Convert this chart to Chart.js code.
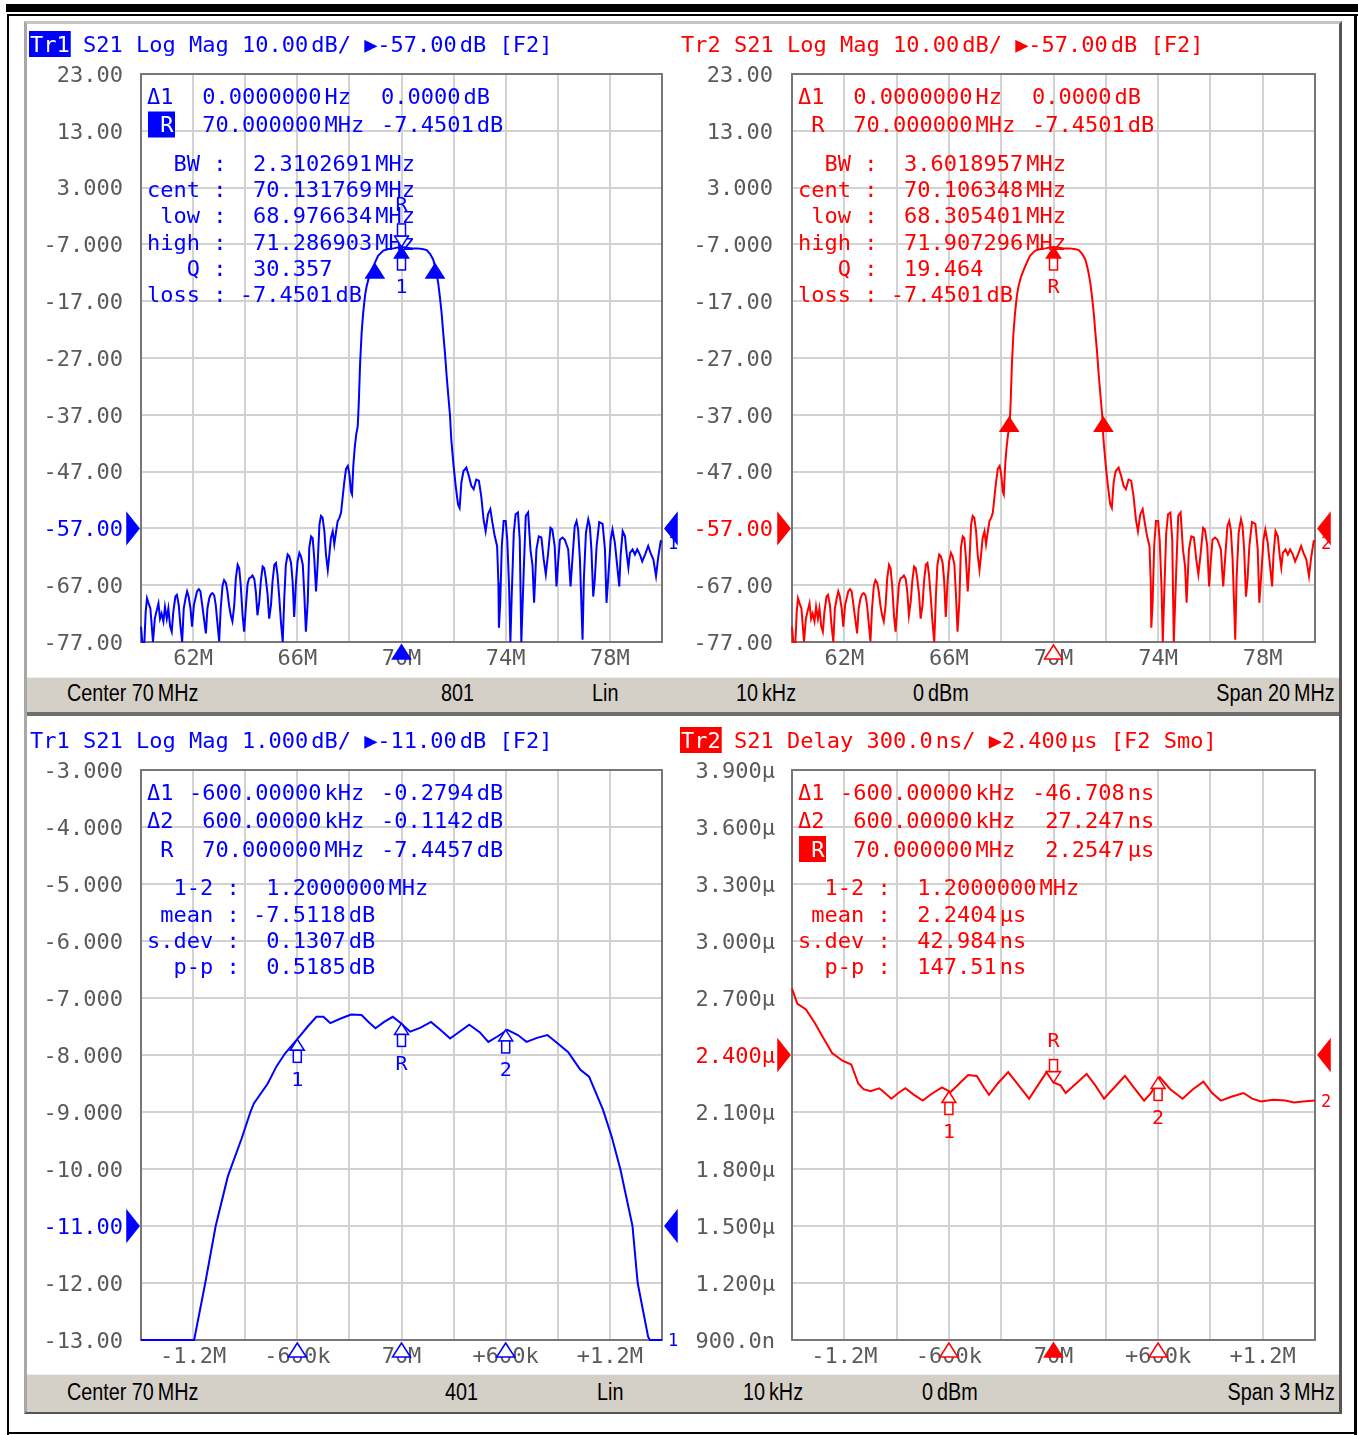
<!DOCTYPE html>
<html>
<head>
<meta charset="utf-8">
<script src="https://cdn.jsdelivr.net/npm/chart.js@4.4.1/dist/chart.umd.min.js"></script>
<style>
  body { margin: 0; background: #fff; width: 1358px; height: 1435px; position: relative; overflow: hidden; }
  .abs { position: absolute; }
  .st { position: absolute; font: 23px 'Liberation Sans', Arial, sans-serif; color: #000; white-space: nowrap;
        line-height: 24px; transform: scaleX(0.86); transform-origin: left center; }
  .st.r { transform-origin: right center; }
  canvas { position: absolute; }
</style>
</head>
<body>
<!-- outer frame -->
<div class="abs" style="left:6px;top:4px;width:1352px;height:8px;background:#000"></div>
<div class="abs" style="left:7px;top:14px;width:1351px;height:2px;background:#000"></div>
<div class="abs" style="left:7px;top:14px;width:2px;height:1421px;background:#000"></div>
<div class="abs" style="left:1354px;top:14px;width:3px;height:1421px;background:#000"></div>
<div class="abs" style="left:7px;top:1432px;width:1350px;height:2px;background:#000"></div>
<!-- instrument window -->
<div class="abs" style="left:24px;top:21px;width:1318px;height:1393px;box-sizing:border-box;background:#fff;
     border-left:3px solid #a8a8a8;border-top:3px solid #c4c4c4;border-right:3px solid #555;border-bottom:3px solid #555"></div>
<!-- status bars -->
<div class="abs" style="left:27px;top:677px;width:1312px;height:35px;background:#d4d0c8;border-top:1px solid #eeeeee"></div>
<div class="abs" style="left:27px;top:712px;width:1312px;height:4px;background:#6e6e6e"></div>
<div class="abs" style="left:27px;top:1374px;width:1312px;height:37px;background:#d4d0c8;border-top:1px solid #eeeeee"></div>

<div class="st" style="left:67px;top:681px">Center 70&#8201;MHz</div>
<div class="st" style="left:441px;top:681px">801</div>
<div class="st" style="left:592px;top:681px">Lin</div>
<div class="st" style="left:736px;top:681px">10&#8201;kHz</div>
<div class="st" style="left:913px;top:681px">0&#8201;dBm</div>
<div class="st r" style="right:23px;top:681px">Span 20&#8201;MHz</div>

<div class="st" style="left:67px;top:1380px">Center 70&#8201;MHz</div>
<div class="st" style="left:445px;top:1380px">401</div>
<div class="st" style="left:597px;top:1380px">Lin</div>
<div class="st" style="left:743px;top:1380px">10&#8201;kHz</div>
<div class="st" style="left:922px;top:1380px">0&#8201;dBm</div>
<div class="st r" style="right:23px;top:1380px">Span 3&#8201;MHz</div>

<canvas id="tl" width="654" height="648" style="left:24px;top:28px"></canvas>
<canvas id="tr" width="662" height="648" style="left:678px;top:28px"></canvas>
<canvas id="bl" width="654" height="650" style="left:24px;top:722px"></canvas>
<canvas id="br" width="662" height="650" style="left:678px;top:722px"></canvas>

<script>
const BLUE = '#0000ff', RED = '#ff0000';
const TICK = '#5a5a5a', GRID = '#d2d2d2', FRAME = '#777777';
const MONO = "'DejaVu Sans Mono', monospace";
const T = '\u2009'; // thin gap between value and unit

// S21 log mag, 60-80 MHz (Tr1 and Tr2 show the same sweep)
const magFreq = [
  60.00,60.05,60.13,60.18,60.23,60.29,60.36,60.41,60.46,60.53,
  60.59,60.67,60.73,60.79,60.86,60.92,60.99,61.05,61.12,61.18,
  61.24,61.32,61.38,61.45,61.51,61.58,61.64,61.71,61.77,61.83,
  61.90,61.96,62.03,62.09,62.15,62.22,62.28,62.35,62.41,62.49,
  62.55,62.62,62.68,62.74,62.81,62.87,62.94,63.00,63.06,63.13,
  63.19,63.26,63.32,63.38,63.45,63.51,63.58,63.64,63.71,63.77,
  63.83,63.90,63.96,64.03,64.09,64.15,64.22,64.28,64.35,64.41,
  64.47,64.54,64.60,64.67,64.73,64.79,64.86,64.92,64.99,65.05,
  65.12,65.18,65.24,65.31,65.37,65.44,65.50,65.56,65.63,65.69,
  65.76,65.82,65.88,65.95,66.01,66.08,66.14,66.21,66.27,66.33,
  66.40,66.46,66.53,66.59,66.65,66.72,66.78,66.85,66.91,66.97,
  67.04,67.10,67.17,67.23,67.29,67.36,67.42,67.49,67.55,67.62,
  67.68,67.74,67.80,67.87,67.94,68.00,68.06,68.10,68.15,68.20,
  68.26,68.32,68.36,68.41,68.47,68.53,68.60,68.66,68.75,68.86,
  68.98,69.10,69.30,69.50,69.70,69.85,70.00,70.20,70.40,70.60,
  70.80,70.97,71.10,71.22,71.32,71.41,71.48,71.54,71.60,71.67,
  71.73,71.80,71.86,71.91,72.00,72.08,72.17,72.23,72.30,72.38,
  72.49,72.59,72.68,72.77,72.87,72.97,73.06,73.15,73.23,73.32,
  73.41,73.49,73.58,73.67,73.72,73.74,73.79,73.85,73.92,74.00,
  74.06,74.13,74.18,74.23,74.31,74.38,74.47,74.54,74.60,74.69,
  74.77,74.86,74.95,75.03,75.09,75.18,75.27,75.37,75.46,75.54,
  75.63,75.72,75.79,75.88,75.95,76.01,76.08,76.18,76.27,76.40,
  76.49,76.56,76.65,76.72,76.78,76.85,76.95,77.00,77.08,77.17,
  77.23,77.29,77.36,77.42,77.49,77.59,77.72,77.81,77.87,77.94,
  78.03,78.10,78.19,78.28,78.36,78.41,78.49,78.58,78.64,78.71,
  78.77,78.87,78.96,79.05,79.15,79.24,79.35,79.47,79.56,79.67,
  79.77,79.86,79.95,80.00
];
const magDb = [
  -74.3,-77.0,-77.0,-71.7,-69.3,-70.2,-71.1,-74.0,-77.0,-72.9,
  -71.7,-70.2,-72.9,-72.0,-73.4,-70.8,-72.9,-71.1,-74.3,-75.2,
  -71.7,-69.0,-68.7,-70.5,-74.0,-77.0,-71.1,-69.3,-68.1,-69.0,
  -71.1,-74.3,-70.5,-69.3,-68.1,-67.7,-68.1,-70.5,-72.6,-75.5,
  -71.1,-69.3,-68.6,-68.4,-68.8,-70.5,-74.0,-76.9,-71.1,-67.1,
  -66.1,-66.6,-68.2,-70.5,-72.4,-73.4,-70.5,-65.8,-63.4,-64.0,
  -67.1,-72.3,-75.2,-70.5,-66.8,-65.8,-65.6,-65.3,-65.9,-68.2,
  -72.3,-69.9,-66.3,-63.7,-64.0,-65.8,-68.7,-72.9,-70.5,-66.3,
  -63.4,-63.1,-65.2,-69.3,-73.4,-77.0,-69.3,-63.4,-61.6,-61.9,
  -63.1,-66.3,-72.6,-66.3,-62.8,-61.3,-61.9,-63.4,-68.7,-75.2,
  -69.9,-60.4,-58.4,-58.7,-62.2,-68.1,-63.4,-56.3,-54.8,-55.1,
  -57.5,-61.6,-64.3,-61.6,-58.7,-57.5,-59.8,-57.5,-55.7,-55.1,
  -54.2,-51.6,-49.0,-46.5,-46.0,-47.5,-50.5,-51.0,-46.0,-43.0,
  -40.5,-39.0,-35.0,-28.0,-22.5,-19.0,-16.0,-14.4,-12.8,-11.5,
  -10.2,-9.0,-8.1,-7.8,-7.7,-7.55,-7.45,-7.6,-7.7,-7.7,
  -7.8,-8.0,-8.7,-9.7,-11.5,-13.8,-16.5,-19.1,-22.5,-26.2,
  -30.0,-33.8,-37.0,-41.3,-46.0,-49.5,-52.8,-53.4,-48.9,-46.9,
  -46.3,-47.8,-49.5,-50.1,-48.4,-48.6,-51.3,-55.4,-57.5,-54.5,
  -53.6,-56.0,-58.4,-60.1,-66.6,-74.5,-70.1,-60.1,-55.7,-55.7,
  -59.0,-67.2,-77.0,-69.0,-57.8,-54.5,-54.2,-59.0,-77.0,-64.8,
  -54.8,-54.2,-60.7,-63.6,-70.1,-60.7,-58.4,-58.6,-62.5,-65.1,
  -61.3,-56.9,-57.2,-60.1,-67.2,-63.1,-59.0,-58.6,-59.0,-60.7,
  -67.2,-62.5,-56.6,-55.7,-57.2,-62.5,-76.6,-66.0,-57.8,-55.4,
  -56.6,-60.7,-69.0,-66.0,-60.1,-55.9,-56.2,-60.7,-70.1,-65.4,
  -59.0,-57.2,-59.5,-63.6,-67.2,-61.9,-57.5,-58.4,-61.3,-63.9,
  -61.3,-60.7,-61.6,-60.7,-61.6,-62.8,-61.6,-60.1,-61.3,-62.5,
  -65.4,-61.9,-59.3,-59.5
];

// S21 log mag, passband zoom 68.5-71.5 MHz
const zoomFreq = [
  68.50,68.60,68.70,68.806,68.87,68.93,69.00,69.08,69.13,69.15,
  69.23,69.28,69.33,69.40,69.46,69.51,69.55,69.59,69.65,69.71,
  69.77,69.81,69.85,69.90,69.95,70.00,70.05,70.11,70.17,70.22,
  70.28,70.33,70.39,70.45,70.50,70.55,70.61,70.67,70.72,70.78,
  70.84,70.90,70.96,71.03,71.08,71.16,71.21,71.26,71.33,71.36,
  71.42,71.43,71.50
];
const zoomDb = [
  -13,-13,-13,-13,-12.0,-11.0,-10.13,-9.46,-9.0,-8.85,
  -8.5,-8.2,-7.97,-7.72,-7.5,-7.33,-7.33,-7.44,-7.36,-7.29,
  -7.30,-7.42,-7.53,-7.42,-7.33,-7.45,-7.59,-7.52,-7.42,-7.55,
  -7.71,-7.6,-7.47,-7.6,-7.77,-7.68,-7.56,-7.65,-7.77,-7.7,
  -7.65,-7.80,-7.95,-8.26,-8.38,-8.96,-9.43,-10.0,-11.0,-12.0,
  -12.94,-13,-13
];

// group delay (µs), 68.5-71.5 MHz
const delayFreq = [
  68.50,68.53,68.58,68.63,68.68,68.73,68.79,68.84,68.88,68.91,
  68.95,69.00,69.02,69.07,69.11,69.15,69.20,69.25,69.30,69.36,
  69.41,69.46,69.51,69.56,69.60,69.63,69.68,69.74,69.80,69.86,
  69.91,69.96,70.00,70.04,70.07,70.13,70.19,70.24,70.29,70.35,
  70.41,70.46,70.52,70.56,70.61,70.67,70.74,70.80,70.86,70.91,
  70.96,71.02,71.09,71.14,71.19,71.26,71.33,71.38,71.43,71.50
];
const delayUs = [
  2.75,2.67,2.64,2.57,2.49,2.41,2.37,2.35,2.25,2.22,
  2.21,2.225,2.21,2.17,2.20,2.225,2.19,2.16,2.195,2.23,
  2.205,2.25,2.295,2.29,2.23,2.19,2.25,2.31,2.24,2.17,
  2.24,2.31,2.255,2.24,2.20,2.25,2.30,2.24,2.17,2.23,
  2.29,2.23,2.16,2.20,2.283,2.22,2.17,2.22,2.26,2.20,
  2.16,2.18,2.20,2.17,2.155,2.165,2.16,2.15,2.155,2.16
];

// tick labels (bottom to top / left to right)
const wideXLabels = ['', '62M', '', '66M', '', '70M', '', '74M', '', '78M', ''];
const zoomXLabels = ['', '-1.2M', '', '-600k', '', '70M', '', '+600k', '', '+1.2M', ''];
const wideYLabels = ['-77.00','-67.00','-57.00','-47.00','-37.00','-27.00','-17.00','-7.000','3.000','13.00','23.00'];
const zoomYLabels = ['-13.00','-12.00','-11.00','-10.00','-9.000','-8.000','-7.000','-6.000','-5.000','-4.000','-3.000'];
const delayYLabels = ['900.0n','1.200µ','1.500µ','1.800µ','2.100µ','2.400µ','2.700µ','3.000µ','3.300µ','3.600µ','3.900µ'];

// markers (frequency, value, label)
const tlMarkerF = [70, 70, 68.976634, 71.286903];
const tlMarkerV = [-7.4501, -7.4501, -10.45, -10.45];
const tlMarkerText = ['R', '1', '', ''];
const trMarkerF = [70, 68.305401, 71.907296];
const trMarkerV = [-7.4501, -37.45, -37.45];
const trMarkerText = ['R', '', ''];
const blMarkerF = [69.4, 70, 70.6];
const blMarkerV = [-7.7251, -7.4457, -7.5599];
const blMarkerText = ['1', 'R', '2'];
const brMarkerF = [69.4, 70, 70.6];
const brMarkerV = [2.2080, 2.2547, 2.2819];
const brMarkerText = ['1', 'R', '2'];

// readouts
const tlRows = [['\u03941', ' 0.0000000' + T + 'Hz', '0.0000' + T + 'dB'],
                [' R', ' 70.000000' + T + 'MHz', '-7.4501' + T + 'dB']];
const tlStats = ['  BW :  2.3102691' + T + 'MHz', 'cent :  70.131769' + T + 'MHz', ' low :  68.976634' + T + 'MHz',
                 'high :  71.286903' + T + 'MHz', '   Q :  30.357', 'loss : -7.4501' + T + 'dB'];
const trStats = ['  BW :  3.6018957' + T + 'MHz', 'cent :  70.106348' + T + 'MHz', ' low :  68.305401' + T + 'MHz',
                 'high :  71.907296' + T + 'MHz', '   Q :  19.464', 'loss : -7.4501' + T + 'dB'];
const blRows = [['\u03941', '-600.00000' + T + 'kHz', '-0.2794' + T + 'dB'],
                ['\u03942', ' 600.00000' + T + 'kHz', '-0.1142' + T + 'dB'],
                [' R', ' 70.000000' + T + 'MHz', '-7.4457' + T + 'dB']];
const blStats = ['  1-2 :  1.2000000' + T + 'MHz', ' mean : -7.5118' + T + 'dB', 's.dev :  0.1307' + T + 'dB', '  p-p :  0.5185' + T + 'dB'];
const brRows = [['\u03941', '-600.00000' + T + 'kHz', '-46.708' + T + 'ns'],
                ['\u03942', ' 600.00000' + T + 'kHz', ' 27.247' + T + 'ns'],
                [' R', ' 70.000000' + T + 'MHz', ' 2.2547' + T + '\u00b5s']];
const brStats = ['  1-2 :  1.2000000' + T + 'MHz', ' mean :  2.2404' + T + '\u00b5s', 's.dev :  42.984' + T + 'ns', '  p-p :  147.51' + T + 'ns'];

function drawParts(ctx, s, x, y) {
  s.split(T).forEach(p => { ctx.fillText(p, x, y); x += ctx.measureText(p).width + 3; });
}

function tri(ctx, pts, col, fill) {
  ctx.beginPath();
  ctx.moveTo(pts[0], pts[1]); ctx.lineTo(pts[2], pts[3]); ctx.lineTo(pts[4], pts[5]); ctx.closePath();
  ctx.fillStyle = fill ? col : '#fff';
  ctx.fill();
  ctx.strokeStyle = col; ctx.lineWidth = 1.5; ctx.stroke();
}

function drawMarker(ctx, px, py, st, col, label) {
  const s = st.dir === 'down' ? -1 : 1;
  const th = st.stem ? 11 : 14, hw = st.stem ? 7 : 9;
  tri(ctx, [px, py, px - hw, py + s * th, px + hw, py + s * th], col, st.fill);
  if (st.stem) {
    ctx.fillStyle = '#fff';
    const y0 = Math.min(py + s * th, py + s * (th + 12));
    ctx.fillRect(px - 4, y0, 8, 12);
    ctx.strokeStyle = col; ctx.strokeRect(px - 4, y0, 8, 12);
  }
  if (label) {
    ctx.fillStyle = col; ctx.font = `20px ${MONO}`; ctx.textAlign = 'center';
    ctx.fillText(label, px, py + s * 41);
    ctx.textAlign = 'left';
  }
}

function overlay(cfg) {
  return {
    id: 'overlay',
    beforeDatasetsDraw(chart) {
      const { ctx, chartArea: a } = chart;
      ctx.save();
      ctx.strokeStyle = FRAME; ctx.lineWidth = 2;
      ctx.strokeRect(a.left, a.top, a.right - a.left, a.bottom - a.top);
      ctx.restore();
    },
    afterDatasetsDraw(chart) {
      const { ctx, chartArea: a, scales: { x, y } } = chart;
      const col = cfg.color;
      ctx.save();
      ctx.textBaseline = 'middle';
      ctx.font = `22px ${MONO}`;

      // title line
      const ty = cfg.titleY;
      const nw = ctx.measureText(cfg.name).width;
      if (cfg.active) {
        ctx.fillStyle = col; ctx.fillRect(cfg.titleX - 1, ty - 13, nw + 2, 26);
        ctx.fillStyle = '#fff';
      } else ctx.fillStyle = col;
      ctx.fillText(cfg.name, cfg.titleX, ty + 2);
      ctx.fillStyle = col;
      drawParts(ctx, cfg.title, cfg.titleX + ctx.measureText(cfg.name + ' ').width, ty + 2);

      // marker readout
      cfg.rows.forEach((r, i) => {
        const ry = a.top + 22 + i * 28.5;
        if (i === cfg.hiRow) {
          ctx.fillStyle = col; ctx.fillRect(a.left + 7, ry - 13, 27, 26);
          ctx.fillStyle = '#fff';
        } else ctx.fillStyle = col;
        ctx.fillText(r[0], a.left + 6, ry + 2);
        ctx.fillStyle = col;
        drawParts(ctx, r[1], a.left + 48, ry + 2);
        drawParts(ctx, r[2], a.left + 240, ry + 2);
      });
      const sy = a.top + 24 + (cfg.rows.length - 1) * 28.5 + 38.5;
      cfg.stats.forEach((s, i) => drawParts(ctx, s, a.left + 6, sy + i * 26.3));

      // reference level arrows
      const ry = y.getPixelForValue(cfg.ref);
      tri(ctx, [a.left - 14, ry - 15, a.left - 2, ry, a.left - 14, ry + 15], col, true);
      tri(ctx, [a.right + 15, ry - 15, a.right + 3, ry, a.right + 15, ry + 15], col, true);

      // trace number at the end of the trace
      const last = chart.data.datasets[0].data.slice(-1)[0];
      const ey = Math.max(a.top, Math.min(a.bottom, y.getPixelForValue(last.y)));
      ctx.font = `17px ${MONO}`; ctx.fillStyle = col;
      ctx.fillText(cfg.traceNo, a.right + 6, ey + 2);

      // markers on the trace
      cfg.mF.forEach((f, i) => {
        drawMarker(ctx, x.getPixelForValue(f), y.getPixelForValue(cfg.mV[i]), cfg.mStyle[i], col, cfg.mText[i]);
      });
      // stimulus markers under the graticule
      cfg.axisF.forEach((f, i) => {
        const px = x.getPixelForValue(f);
        tri(ctx, [px, a.bottom + 3, px - 9, a.bottom + 17, px + 9, a.bottom + 17], col, cfg.axisFill[i]);
      });
      ctx.restore();
    }
  };
}

function makeChart(id, cfg) {
  new Chart(document.getElementById(id), {
    type: 'line',
    data: {
      datasets: [{
        data: cfg.xs.map((f, i) => ({ x: f, y: cfg.ys[i] })),
        borderColor: cfg.color, borderWidth: 2, pointRadius: 0, tension: 0, clip: 3
      }]
    },
    options: {
      responsive: false, animation: false, events: [],
      layout: { padding: { left: 0, top: cfg.padTop, right: cfg.padRight, bottom: 0 } },
      plugins: { legend: { display: false }, tooltip: { enabled: false } },
      scales: {
        x: {
          type: 'linear', min: cfg.xMin, max: cfg.xMax,
          afterFit: s => { s.height = cfg.xAxisH; },
          grid: { color: GRID, lineWidth: 2, drawTicks: false },
          border: { display: false },
          ticks: { stepSize: cfg.xStep, autoSkip: false, maxRotation: 0, padding: 4, color: TICK,
                   font: { family: MONO, size: 22 }, callback: (v, i) => cfg.xLabels[i] }
        },
        y: {
          type: 'linear', min: cfg.yMin, max: cfg.yMax,
          afterFit: s => { s.width = cfg.yAxisW; },
          grid: { color: GRID, lineWidth: 2, drawTicks: false },
          border: { display: false },
          ticks: { stepSize: cfg.yStep, autoSkip: false, padding: cfg.yPad, labelOffset: 2,
                   color: c => (c.tick && Math.abs(c.tick.value - cfg.ref) < 1e-6 ? cfg.color : TICK),
                   font: { family: MONO, size: 22 }, callback: (v, i) => cfg.yLabels[i] }
        }
      }
    },
    plugins: [overlay(cfg)]
  });
}

const wide = { xMin: 60, xMax: 80, xStep: 2, xLabels: wideXLabels, yMin: -77, yMax: 23, yStep: 10,
               yLabels: wideYLabels, ref: -57, padTop: 46, xAxisH: 34, xs: magFreq, ys: magDb };
const zoom = { xMin: 68.5, xMax: 71.5, xStep: 0.3, xLabels: zoomXLabels, padTop: 48, xAxisH: 32 };

makeChart('tl', Object.assign({}, wide, {
  color: BLUE, name: 'Tr1', active: true, titleX: 6, titleY: 16,
  title: 'S21 Log Mag 10.00' + T + 'dB/ \u25B6-57.00' + T + 'dB [F2]',
  yAxisW: 117, padRight: 16, yPad: 18, traceNo: '1',
  rows: tlRows, hiRow: 1, stats: tlStats,
  mF: tlMarkerF, mV: tlMarkerV, mText: tlMarkerText,
  mStyle: [{ dir: 'down', fill: false, stem: true }, { dir: 'up', fill: true, stem: true },
           { dir: 'up', fill: true, stem: false }, { dir: 'up', fill: true, stem: false }],
  axisF: [70], axisFill: [true]
}));

makeChart('tr', Object.assign({}, wide, {
  color: RED, name: 'Tr2', active: false, titleX: 3, titleY: 16,
  title: 'S21 Log Mag 10.00' + T + 'dB/ \u25B6-57.00' + T + 'dB [F2]',
  yAxisW: 114, padRight: 25, yPad: 19, traceNo: '2',
  rows: tlRows, hiRow: -1, stats: trStats,
  mF: trMarkerF, mV: trMarkerV, mText: trMarkerText,
  mStyle: [{ dir: 'up', fill: true, stem: true }, { dir: 'up', fill: true, stem: false },
           { dir: 'up', fill: true, stem: false }],
  axisF: [70], axisFill: [false]
}));

makeChart('bl', Object.assign({}, zoom, {
  color: BLUE, name: 'Tr1', active: false, titleX: 6, titleY: 18,
  title: 'S21 Log Mag 1.000' + T + 'dB/ \u25B6-11.00' + T + 'dB [F2]',
  yMin: -13, yMax: -3, yStep: 1, yLabels: zoomYLabels, ref: -11,
  yAxisW: 117, padRight: 16, yPad: 18, traceNo: '1', xs: zoomFreq, ys: zoomDb,
  rows: blRows, hiRow: -1, stats: blStats,
  mF: blMarkerF, mV: blMarkerV, mText: blMarkerText,
  mStyle: [{ dir: 'up', fill: false, stem: true }, { dir: 'up', fill: false, stem: true },
           { dir: 'up', fill: false, stem: true }],
  axisF: [69.4, 70, 70.6], axisFill: [false, false, false]
}));

makeChart('br', Object.assign({}, zoom, {
  color: RED, name: 'Tr2', active: true, titleX: 3, titleY: 18,
  title: 'S21 Delay 300.0' + T + 'ns/ \u25B62.400' + T + '\u00b5s [F2 Smo]',
  yMin: 0.9, yMax: 3.9, yStep: 0.3, yLabels: delayYLabels, ref: 2.4,
  yAxisW: 114, padRight: 25, yPad: 17, traceNo: '2', xs: delayFreq, ys: delayUs,
  rows: brRows, hiRow: 2, stats: brStats,
  mF: brMarkerF, mV: brMarkerV, mText: brMarkerText,
  mStyle: [{ dir: 'up', fill: false, stem: true }, { dir: 'down', fill: false, stem: true },
           { dir: 'up', fill: false, stem: true }],
  axisF: [69.4, 70, 70.6], axisFill: [false, true, false]
}));
</script>
</body>
</html>
